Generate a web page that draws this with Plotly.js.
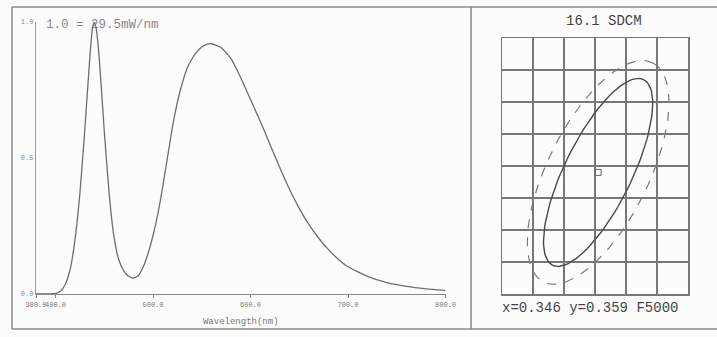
<!DOCTYPE html>
<html>
<head>
<meta charset="utf-8">
<script src="https://cdn.plot.ly/plotly-3.0.1.min.js"></script>
<style>html,body{margin:0;padding:0;background:#fdfcfc;}#chart{width:717px;height:337px;}</style>
</head>
<body>
<div id="chart"></div>
<script>
// ---- spectrum data (relative intensity, 1.0 = 29.5 mW/nm) ----
const wavelengths = [380, 390, 400, 405, 410, 415, 420, 425, 430, 435, 438, 440, 442, 445, 450, 455, 460, 465, 470, 475, 480, 485, 490, 495, 500, 505, 510, 515, 520, 525, 530, 535, 540, 545, 550, 555, 560, 570, 580, 590, 600, 610, 620, 630, 640, 650, 660, 670, 680, 690, 700, 720, 740, 760, 780, 800];
const intensity   = [0, 0, 0.002, 0.01, 0.035, 0.09, 0.2, 0.37, 0.6, 0.86, 0.98, 1.0, 0.97, 0.86, 0.6, 0.37, 0.21, 0.125, 0.085, 0.065, 0.058, 0.068, 0.1, 0.15, 0.215, 0.295, 0.395, 0.505, 0.615, 0.705, 0.775, 0.83, 0.865, 0.89, 0.908, 0.918, 0.92, 0.905, 0.865, 0.795, 0.715, 0.635, 0.55, 0.465, 0.385, 0.315, 0.255, 0.205, 0.163, 0.128, 0.1, 0.065, 0.042, 0.028, 0.019, 0.013];
const xTickVals = [380, 400, 500, 600, 700, 800];
const xTickText = ["380.0", "400.0", "500.0", "600.0", "700.0", "800.0"];
const yTickVals = [0, 0.5, 1.0];
const yTickText = ["0.0", "0.5", "1.0"];

// ---- chromaticity (SDCM) panel ----
const cieX = [0.346];
const cieY = [0.359];
const ellipseNames = ["measured", "tolerance"];
const ellipseA = [0.0325, 0.0385];      // semi-major axis (CIE units)
const ellipseB = [0.0108, 0.0162];      // semi-minor axis
const ellipseTheta = [63, 62.5];        // rotation, degrees
const ellipseDash = ["solid", "dash"];

const W = 717, H = 337;
const px = x => x / W;
const py = y => 1 - y / H;
const mono = "Liberation Mono, DejaVu Sans Mono, monospace";

function ellipsePoints(i) {
  const xs = [], ys = [];
  const th = ellipseTheta[i] * Math.PI / 180;
  for (let k = 0; k <= 120; k++) {
    const t = 2 * Math.PI * k / 120;
    const u = ellipseA[i] * Math.cos(t), v = ellipseB[i] * Math.sin(t);
    xs.push(cieX[0] + u * Math.cos(th) - v * Math.sin(th));
    ys.push(cieY[0] + u * Math.sin(th) + v * Math.cos(th));
  }
  return {xs, ys};
}

const traces = [{
  type: "scatter", mode: "lines", x: wavelengths, y: intensity,
  line: {color: "#6e6e6e", width: 1.3, shape: "spline", smoothing: 0.5},
  xaxis: "x", yaxis: "y", hoverinfo: "skip"
}];
ellipseNames.forEach((n, i) => {
  const p = ellipsePoints(i);
  traces.push({
    type: "scatter", mode: "lines", name: n, x: p.xs, y: p.ys,
    line: {color: i === 0 ? "#4a4a4a" : "#7a7a7a", width: i === 0 ? 1.4 : 1.2, dash: ellipseDash[i]},
    xaxis: "x2", yaxis: "y2", hoverinfo: "skip"
  });
});
traces.push({
  type: "scatter", mode: "markers", x: cieX, y: cieY,
  marker: {symbol: "square-open", size: 6, color: "#666", line: {width: 1}},
  xaxis: "x2", yaxis: "y2", hoverinfo: "skip"
});

const frame = {type: "line", xref: "paper", yref: "paper", line: {color: "#8a8a8a", width: 1.5}};
const gridCol = "#777";
const layout = {
  width: W, height: H, showlegend: false,
  margin: {l: 0, r: 0, t: 0, b: 0},
  paper_bgcolor: "#fdfcfc", plot_bgcolor: "rgba(0,0,0,0)",
  xaxis: {
    domain: [px(36), px(445.5)], range: [380, 800], anchor: "y",
    tickvals: xTickVals, ticktext: xTickText, tickangle: 0, ticks: "outside", ticklen: 3, tickcolor: "#888",
    showline: true, linecolor: "#888", linewidth: 1.2, showgrid: false, zeroline: false,
    tickfont: {family: mono, size: 7, color: "#777"}, automargin: false,
    title: {text: "Wavelength(nm)", font: {family: mono, size: 9, color: "#777"}, standoff: 10}
  },
  yaxis: {
    domain: [py(294), py(22)], range: [0, 1], anchor: "x",
    tickvals: yTickVals, ticktext: yTickText, ticks: "", showline: true, linecolor: "#999", linewidth: 1.2,
    showgrid: false, zeroline: false, automargin: false,
    tickfont: {family: mono, size: 7, color: "#888"}
  },
  xaxis2: {
    domain: [px(502), px(688)], range: [0.315, 0.375], anchor: "y2",
    tick0: 0.315, dtick: 0.01, showgrid: true, gridcolor: gridCol, gridwidth: 1.5,
    showline: true, mirror: true, linecolor: gridCol, linewidth: 1.5,
    showticklabels: false, ticks: "", zeroline: false
  },
  yaxis2: {
    domain: [py(294), py(38)], range: [0.321, 0.401], anchor: "x2",
    tick0: 0.321, dtick: 0.01, showgrid: true, gridcolor: gridCol, gridwidth: 1.5,
    showline: true, mirror: true, linecolor: gridCol, linewidth: 1.5,
    showticklabels: false, ticks: "", zeroline: false
  },
  shapes: [
    Object.assign({}, frame, {x0: px(12), x1: 1, y0: py(7), y1: py(7)}),
    Object.assign({}, frame, {x0: px(12), x1: 1, y0: py(329), y1: py(329)}),
    Object.assign({}, frame, {x0: px(12), x1: px(12), y0: py(7), y1: py(329)}),
    Object.assign({}, frame, {x0: px(471), x1: px(471), y0: py(7), y1: py(329)})
  ],
  annotations: [
    {text: "1.0 = 29.5mW/nm", xref: "paper", yref: "paper", x: px(44), y: py(25), xanchor: "left", yanchor: "middle",
     showarrow: false, font: {family: mono, size: 12.5, color: "#888"}},
    {text: "16.1 SDCM", xref: "paper", yref: "paper", x: px(604), y: py(21), xanchor: "center", yanchor: "middle",
     showarrow: false, font: {family: mono, size: 14, color: "#444"}},
    {text: "x=0.346 y=0.359 F5000", xref: "paper", yref: "paper", x: px(590), y: py(308), xanchor: "center", yanchor: "middle",
     showarrow: false, font: {family: mono, size: 14, color: "#444"}}
  ]
};

Plotly.newPlot("chart", traces, layout, {staticPlot: true, displayModeBar: false});
</script>
</body>
</html>
